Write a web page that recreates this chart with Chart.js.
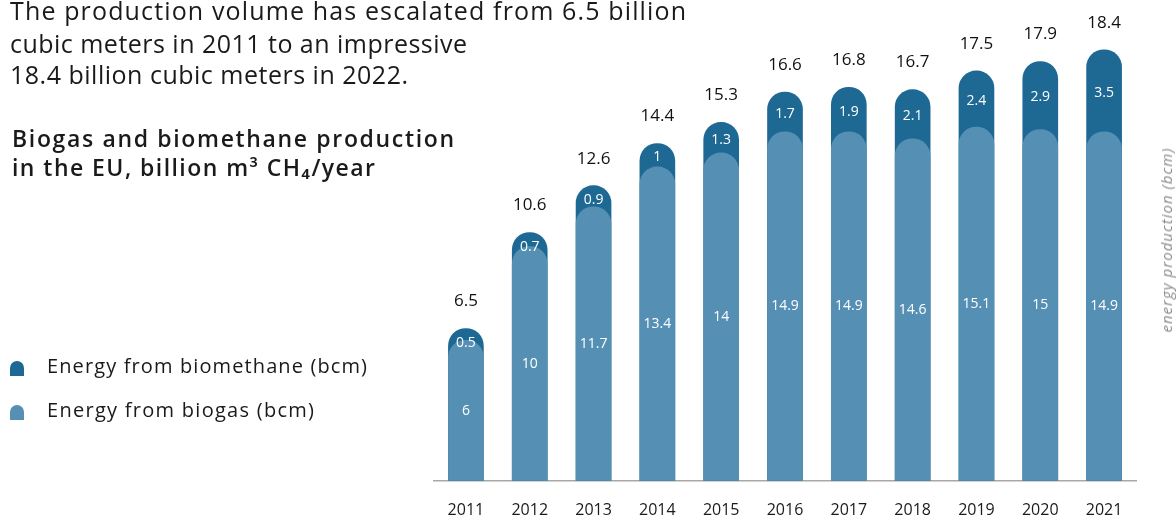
<!DOCTYPE html>
<html>
<head>
<meta charset="utf-8">
<script src="https://cdn.jsdelivr.net/npm/chart.js@4.4.1/dist/chart.umd.min.js"></script>
<style>
  html, body { margin: 0; padding: 0; background: #ffffff; }
  body { width: 1176px; height: 518px; position: relative; overflow: hidden; font-family: "Open Sans", "Lato", sans-serif; color: #1a1a1a; }
  #wrap { position: absolute; left: 0; top: 0; width: 1176px; height: 518px; }
  .line { position: absolute; white-space: nowrap; }
  .intro { font-size: 25px; line-height: 30px; color: #1a1a1a; }
  .heading { font-size: 23px; line-height: 30px; font-weight: 600; color: #1a1a1a; }
  .leg { font-size: 20px; line-height: 24px; color: #1a1a1a; }
  .sw { position: absolute; width: 14px; height: 15px; border-radius: 7px 7px 0 0; }
  .ytitle { position: absolute; left: 1166px; top: 240px; width: 0; height: 0; }
  .ytitle span { position: absolute; left: 0; top: 0; transform: translate(-50%, -50%) rotate(-90deg); font-size: 15px; line-height: 18px; font-style: italic; font-weight: 400; color: #8a8a8a; white-space: nowrap; }
</style>
</head>
<body>
<div id="wrap"><canvas id="c" width="1176" height="518"></canvas></div>
<div id="texts"></div>
<div class="ytitle"><span id="yt">energy production (bcm)</span></div>
<script>
const years = ["2011","2012","2013","2014","2015","2016","2017","2018","2019","2020","2021"];
const biogas = [6, 10, 11.7, 13.4, 14, 14.9, 14.9, 14.6, 15.1, 15, 14.9];
const biomethane = [0.5, 0.7, 0.9, 1, 1.3, 1.7, 1.9, 2.1, 2.4, 2.9, 3.5];
const totals = [6.5, 10.6, 12.6, 14.4, 15.3, 16.6, 16.8, 16.7, 17.5, 17.9, 18.4];

const DARK = "#1e6894";
const LIGHT = "#5590b4";
const FONT = "'Open Sans', Lato, sans-serif";

function fitWidth(el, target) {
  const actual = el.getBoundingClientRect().width;
  const n = el.textContent.length - 1;
  if (n > 0) el.style.letterSpacing = ((target - actual) / n).toFixed(3) + "px";
}

// Text lines: [class, text, left, top, targetWidth]
const textLines = [
  ["intro", "The production volume has escalated from 6.5 billion", 10, -5, 676],
  ["intro", "cubic meters in 2011 to an impressive", 10, 28, 457],
  ["intro", "18.4 billion cubic meters in 2022.", 10, 59, 398],
  ["heading", "Biogas and biomethane production", 12, 123, 442],
  ["heading", "in the EU, billion m³ CH₄/year", 12, 152, 363],
  ["leg", "Energy from biomethane (bcm)", 47, 354, 320],
  ["leg", "Energy from biogas (bcm)", 47, 398, 267]
];
const holder = document.getElementById("texts");
textLines.forEach(([cls, txt, l, t, w]) => {
  const d = document.createElement("div");
  d.className = "line " + cls;
  d.style.left = l + "px";
  d.style.top = t + "px";
  d.textContent = txt;
  holder.appendChild(d);
  fitWidth(d, w);
});
[[DARK, 361], [LIGHT, 405]].forEach(([c, t]) => {
  const s = document.createElement("span");
  s.className = "sw";
  s.style.left = "10px";
  s.style.top = t + "px";
  s.style.background = c;
  holder.appendChild(s);
});
(function () {
  const yt = document.getElementById("yt");
  const w = yt.offsetWidth;
  const n = yt.textContent.length - 1;
  yt.style.letterSpacing = ((184 - w) / n).toFixed(3) + "px";
})();

const labelPlugin = {
  id: "barLabels",
  afterDatasetsDraw(chart) {
    const ctx = chart.ctx;
    const light = chart.getDatasetMeta(0).data;
    const dark = chart.getDatasetMeta(1).data;
    const y = chart.scales.y;
    ctx.save();
    ctx.textAlign = "center";
    ctx.textBaseline = "middle";
    for (let i = 0; i < years.length; i++) {
      const lb = light[i], db = dark[i];
      ctx.fillStyle = "#ffffff";
      ctx.font = "14px " + FONT;
      ctx.fillText(String(biogas[i]), lb.x, (lb.y + lb.base) / 2);
      const capTop = db.y;
      const capBot = y.getPixelForValue(biogas[i]);
      ctx.fillText(String(biomethane[i]), db.x, Math.max((capTop + capBot) / 2 + 2, capTop + 14));
      ctx.fillStyle = "#111111";
      ctx.font = "17px " + FONT;
      ctx.fillText(String(totals[i]), db.x, capTop - 27);
    }
    ctx.restore();
  }
};

new Chart(document.getElementById("c"), {
  type: "bar",
  data: {
    labels: years,
    datasets: [
      {
        label: "Energy from biogas (bcm)",
        data: biogas,
        backgroundColor: LIGHT,
        borderRadius: { topLeft: 40, topRight: 40 },
        borderSkipped: "bottom",
        grouped: false,
        order: 0,
        barThickness: 35
      },
      {
        label: "Energy from biomethane (bcm)",
        data: totals,
        backgroundColor: DARK,
        borderRadius: { topLeft: 40, topRight: 40 },
        borderSkipped: "bottom",
        grouped: false,
        order: 1,
        barThickness: 35
      }
    ]
  },
  options: {
    responsive: false,
    animation: false,
    layout: { padding: { left: 434, right: 40, top: 10, bottom: -22 } },
    plugins: { legend: { display: false }, tooltip: { enabled: false } },
    scales: {
      x: {
        grid: { display: false, drawTicks: false },
        border: { display: true, color: "#a8a8a8", width: 1.5 },
        ticks: { color: "#1a1a1a", font: { family: FONT, size: 16 }, padding: 20 }
      },
      y: {
        display: false,
        min: 0,
        max: 20.1
      }
    }
  },
  plugins: [labelPlugin]
});
</script>
</body>
</html>
